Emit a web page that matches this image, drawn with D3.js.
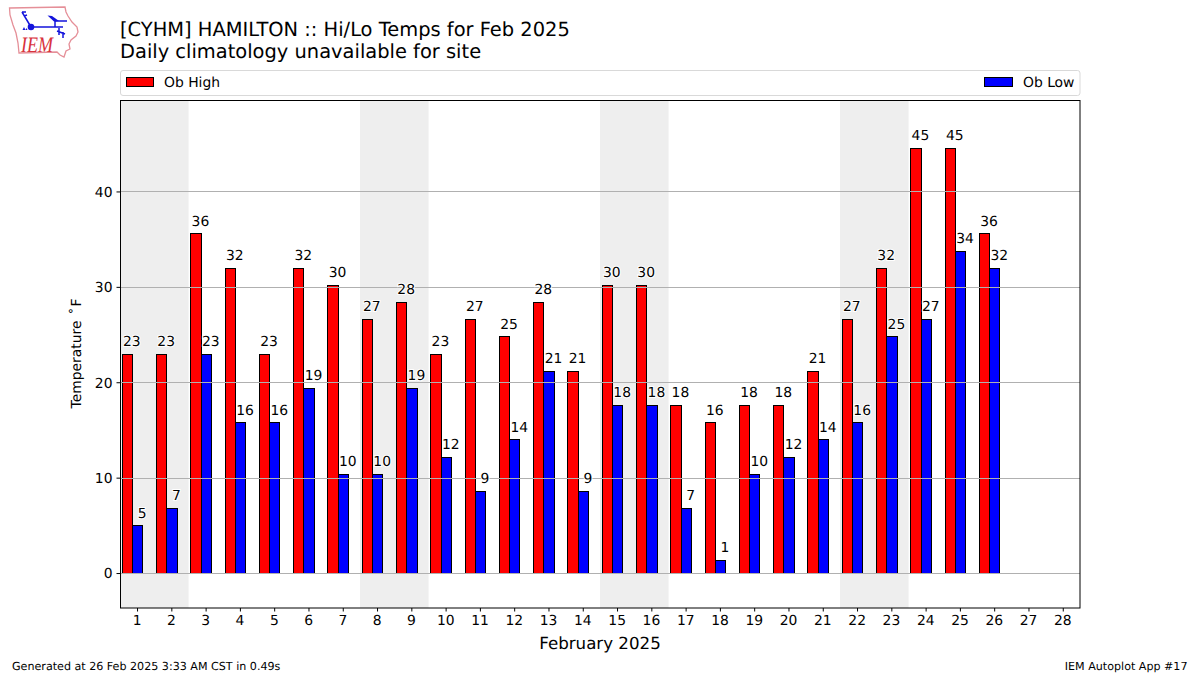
<!DOCTYPE html>
<html><head><meta charset="utf-8">
<script src="https://cdn.jsdelivr.net/npm/d3@7"></script>
<style>
html,body{margin:0;padding:0;background:#fff}
svg{display:block}
text{font-family:"DejaVu Sans",sans-serif;fill:#000;text-rendering:geometricPrecision}
</style></head><body>
<svg id="c" width="1200" height="675"></svg>
<script>
const days = d3.range(1, 29);
const obHigh = [23,23,35.6,32,23,32,30.2,26.6,28.4,23,26.6,24.8,28.4,21.2,30.2,30.2,17.6,15.8,17.6,17.6,21.2,26.6,32,44.6,44.6,35.6];
const obLow = [5,6.8,23,15.8,15.8,19.4,10.4,10.4,19.4,12.2,8.6,14,21.2,8.6,17.6,17.6,6.8,1.4,10.4,12.2,14,15.8,24.8,26.6,33.8,32];
const weekendStarts = [1,8,15,22];
const yTicks = [0,10,20,30,40];
const titleLines = ["[CYHM] HAMILTON :: Hi/Lo Temps for Feb 2025","Daily climatology unavailable for site"];

const svg = d3.select("#c");
const box = {l:120, r:1080, t:100, b:608};
const x = d3.scaleLinear().domain([0.5,28.5]).range([box.l,box.r]);
const y = d3.scaleLinear().domain([-3.664,49.586]).range([box.b,box.t]);
const snap = v => Math.round(v)+.5;

// Logo
const logo = svg.append("g");
logo.append("path").attr("fill","none").attr("stroke","#e58f98").attr("stroke-width",1.3)
 .attr("d","M9.5,8 L65,7 L66,12 L68,16 L72,22 L77,27 L78,32 L76,36 L71,40 L69,44 L70,49 L66,51 L64,57 L60,55 L57,52 L19,53 L18,43 L16,33 L13,25 L10,15 Z");
logo.append("path").attr("fill","none").attr("stroke","#1414dc").attr("stroke-width",1.5)
 .attr("d","M31,27 H63 M31,27 L22,12 M22,12 L26,12 M24,16 L27,15 M55,21 H67 M55,21 V27 M59,28 V35 M63,32 V38 M57,31 L65,34");
logo.append("circle").attr("cx",31).attr("cy",27).attr("r",3.3).attr("fill","#1414dc");
logo.append("path").attr("fill","#1414dc").attr("d","M47.5,15.5 L52,16 L59,21 L54,21.5 Z");
logo.append("path").attr("fill","#1414dc").attr("d","M22.5,30 l1.5,-3 l1.5,3 Z M25.5,30 l1,-2 l1,2 Z");
logo.append("text").attr("x",21).attr("y",52).attr("textLength",32).attr("lengthAdjust","spacingAndGlyphs")
 .style("font-family","'Liberation Serif',serif").style("font-style","italic")
 .style("font-size","22px").style("fill","#d8323c").text("IEM");

// Titles
svg.append("g").selectAll("text").data(titleLines).join("text")
 .attr("x",120).attr("y",(d,i)=>35.5+i*22).style("font-size","19.44px").text(d=>d);

// Legend frame
svg.append("rect").attr("x",120.5).attr("y",70.5).attr("width",959.5).attr("height",25).attr("rx",2.5)
 .attr("fill","#fff").attr("stroke","#d9d9d9");
const legendItems = [{label:"Ob High",color:"red",sx:126.5,w:27,tx:164},{label:"Ob Low",color:"blue",sx:984.5,w:28,tx:1023}];
const lg = svg.append("g").selectAll("g").data(legendItems).join("g");
lg.append("rect").attr("x",d=>d.sx).attr("y",77.5).attr("width",d=>d.w).attr("height",9).attr("fill",d=>d.color).attr("stroke","#000");
lg.append("text").attr("x",d=>d.tx).attr("y",86.5).style("font-size","13.89px").text(d=>d.label);

// Plot background, weekend shading
const plot = svg.append("g");
plot.selectAll("rect.we").data(weekendStarts).join("rect").attr("class","we")
 .attr("x",d=>x(d-0.5)).attr("width",d=>x(d+1.5)-x(d-0.5)).attr("y",box.t).attr("height",box.b-box.t).attr("fill","#eeeeee");

// Bars
function bars(vals,color,off){
 plot.selectAll("rect.b"+color).data(vals).join("rect").attr("class","b"+color)
  .attr("x",(d,i)=>snap(x(days[i]+off)))
  .attr("width",(d,i)=>snap(x(days[i]+off+0.3))-snap(x(days[i]+off)))
  .attr("y",d=>snap(y(d)))
  .attr("height",d=>snap(y(0))-snap(y(d)))
  .attr("fill",color).attr("stroke","#000").attr("stroke-width",1);
}
function labels(vals,color,off){
 plot.selectAll("text.l"+color).data(vals).join("text").attr("class","l"+color)
  .attr("x",(d,i)=>x(days[i]+off+0.15)+5).attr("y",d=>y(d)-7.8).attr("text-anchor","middle")
  .style("font-size","13.89px").style("stroke","#fff").style("stroke-width","2px").style("paint-order","stroke")
  .text(d=>Math.round(d));
}
bars(obHigh,"red",-0.45);
bars(obLow,"blue",-0.15);

// Grid lines lie over the bars
plot.selectAll("line.g").data(yTicks).join("line").attr("class","g")
 .attr("x1",box.l).attr("x2",box.r).attr("y1",d=>snap(y(d))).attr("y2",d=>snap(y(d))).attr("stroke","#b0b0b0").attr("stroke-width",1);
labels(obHigh,"red",-0.45);
labels(obLow,"blue",-0.15);

// Axes frame
svg.append("rect").attr("x",box.l+.5).attr("y",box.t+.5).attr("width",box.r-box.l-.5).attr("height",box.b-box.t-.5).attr("fill","none").attr("stroke","#000");
const ax = d3.axisBottom(x).offset(0).tickValues(days).tickSize(3.5).tickPadding(4).tickFormat(d3.format("d"));
const gx = svg.append("g").attr("transform",`translate(0,${box.b})`).call(ax);
const ay = d3.axisLeft(y).offset(0).tickValues(yTicks).tickSize(3.5).tickPadding(4).tickFormat(d3.format("d"));
const gy = svg.append("g").attr("transform",`translate(${box.l},0)`).call(ay);
[gx,gy].forEach(g=>{g.select(".domain").remove();g.selectAll("text").style("font-size","13.89px").style("font-family","'DejaVu Sans',sans-serif");g.selectAll("line").attr("stroke","#000");});
gx.selectAll("line").attr("transform","translate(.4,0)");
gy.selectAll("line").attr("transform","translate(0,.5)");
gy.selectAll("text").attr("transform","translate(0,1)");

// Labels
svg.append("text").attr("x",600).attr("y",649).attr("text-anchor","middle").style("font-size","16.67px").text("February 2025");
const yl = svg.append("text").attr("transform","translate(81,353.5) rotate(-90)").attr("text-anchor","middle").style("font-size","13.89px");
yl.append("tspan").text("Temperature");
yl.append("tspan").attr("dx",6).text("˚");
yl.append("tspan").attr("dx",1).text("F");
svg.append("text").attr("x",12).attr("y",670).style("font-size","11.11px").text("Generated at 26 Feb 2025 3:33 AM CST in 0.49s");
svg.append("text").attr("x",1187.5).attr("y",670).attr("text-anchor","end").style("font-size","11.11px").text("IEM Autoplot App #17");
</script>
</body></html>
